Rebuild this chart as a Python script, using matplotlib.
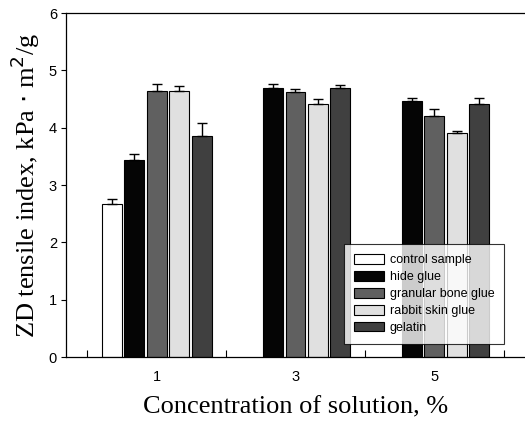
import numpy as np
import matplotlib
matplotlib.use("Agg")
import matplotlib.pyplot as plt

concentrations = ["1", "3", "5"]
series = ["control sample", "hide glue", "granular bone glue", "rabbit skin glue", "gelatin"]
control = [2.67, np.nan, np.nan]
hide_glue = [3.44, 4.69, 4.46]
bone_glue = [4.64, 4.62, 4.20]
rabbit_glue = [4.64, 4.41, 3.90]
gelatin = [3.85, 4.69, 4.42]
control_err = [0.09, 0, 0]
hide_err = [0.10, 0.08, 0.06]
bone_err = [0.13, 0.06, 0.13]
rabbit_err = [0.09, 0.09, 0.05]
gelatin_err = [0.24, 0.06, 0.09]

values = [control, hide_glue, bone_glue, rabbit_glue, gelatin]
errors = [control_err, hide_err, bone_err, rabbit_err, gelatin_err]
colors = ["#ffffff", "#050505", "#606060", "#e0e0e0", "#404040"]

fig = plt.figure(figsize=(5.25, 4.21), dpi=100)
ax = fig.add_axes([0.1257, 0.152, 0.8743, 0.817])

x = np.arange(len(concentrations))
pitch = 0.162
width = 0.144
for i in range(len(series)):
    pos = x + (i - 2) * pitch
    ax.bar(pos, values[i], width, color=colors[i], edgecolor="black", linewidth=0.8,
           label=series[i], zorder=2)
    ax.errorbar(pos, values[i], yerr=[np.zeros(3), errors[i]], fmt="none",
                ecolor="black", elinewidth=1.0, capsize=3.4, capthick=1.0, zorder=3)

ax.set_xlim(-0.655, 2.655)
ax.set_ylim(0, 6)
ax.set_xticks(x)
ax.set_xticklabels(concentrations)
ax.set_xticks([-0.5, 0.5, 1.5, 2.5], minor=True)
ax.tick_params(axis="x", which="major", length=0, pad=9, labelsize=10.5)
ax.tick_params(axis="x", which="minor", direction="in", length=5, width=0.8)
ax.tick_params(axis="y", direction="out", length=3.5, width=0.8, labelsize=10.5, pad=3)
for lab in ax.get_xticklabels() + ax.get_yticklabels():
    lab.set_family("Liberation Sans")
ax.spines["right"].set_visible(False)
for s in ["left", "top", "bottom"]:
    ax.spines[s].set_linewidth(0.9)

ax.set_xlabel("Concentration of solution, %", family="Liberation Serif", fontsize=19, labelpad=9)
ax.set_ylabel("ZD tensile index, kPa $\\cdot$ m$^2$/g", family="Liberation Serif", fontsize=19, labelpad=5)

leg = ax.legend(loc="lower left", bbox_to_anchor=(0.606, 0.038), prop={"family": "Liberation Sans", "size": 9},
                frameon=True, fancybox=False, handlelength=2.4, handleheight=0.8,
                labelspacing=0.38, borderpad=0.8, handletextpad=0.45, borderaxespad=0)
leg.get_frame().set_edgecolor("black")
leg.get_frame().set_linewidth(0.8)

fig.savefig("out.png", dpi=100)
